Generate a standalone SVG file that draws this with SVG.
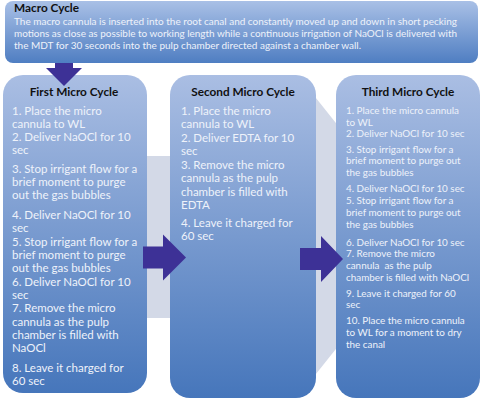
<svg xmlns="http://www.w3.org/2000/svg" width="483" height="400" viewBox="0 0 483 400">
<defs>
<linearGradient id="gMicro" x1="0" y1="0" x2="0" y2="1">
<stop offset="0" stop-color="#aabee3"/>
<stop offset="1" stop-color="#4676bb"/>
</linearGradient>
<linearGradient id="gMacro" x1="0" y1="0" x2="0" y2="1">
<stop offset="0" stop-color="#a9c0e6"/>
<stop offset="1" stop-color="#4f7ec2"/>
</linearGradient>
<style>
.box{fill:url(#gMicro);}
.title{font-family:Lato,"Liberation Sans",sans-serif;font-weight:bold;font-size:11.8px;fill:#111111;text-anchor:middle;}
.mtitle{font-family:Lato,"Liberation Sans",sans-serif;font-weight:bold;font-size:11.8px;fill:#111111;}
.body{font-family:Lato,"Liberation Sans",sans-serif;font-size:11.5px;fill:#eef2fa;}
.small{font-family:Lato,"Liberation Sans",sans-serif;font-size:9.9px;fill:#eef2fa;white-space:pre;}
.mbody{font-family:Lato,"Liberation Sans",sans-serif;font-size:10.4px;fill:#eef2fa;}
.arrow{fill:#3d3196;}
</style>
</defs>
<rect width="483" height="400" fill="#ffffff"/>
<polygon id="background-arrow" points="20,156 300,156 300,78 426,236 300,394 300,318 20,318" fill="#d3d9e7"/>

<g id="macro">
<rect x="5" y="1" width="473" height="62" rx="8" fill="url(#gMacro)"/>
<text class="mtitle" x="14" y="12">Macro Cycle</text>
<text class="mbody" x="14" y="25" textLength="443" lengthAdjust="spacingAndGlyphs">The macro cannula is inserted into the root canal and constantly moved up and down in short pecking</text>
<text class="mbody" x="14" y="37" textLength="443" lengthAdjust="spacingAndGlyphs">motions as close as possible to working length while a continuous irrigation of NaOCl is delivered with</text>
<text class="mbody" x="14" y="49" textLength="347" lengthAdjust="spacingAndGlyphs">the MDT for 30 seconds into the pulp chamber directed against a chamber wall.</text>
</g>

<g id="first">
<rect class="box" x="3" y="75" width="144" height="318" rx="20"/>
<text class="title" x="74" y="96">First Micro Cycle</text>
<text class="body">
<tspan x="12" y="115">1. Place the micro</tspan>
<tspan x="12" y="128">cannula to WL</tspan>
<tspan x="12" y="141">2. Deliver NaOCl for 10</tspan>
<tspan x="12" y="154">sec</tspan>
<tspan x="12" y="173">3. Stop irrigant flow for a</tspan>
<tspan x="12" y="186">brief moment to purge</tspan>
<tspan x="12" y="199">out the gas bubbles</tspan>
<tspan x="12" y="219">4. Deliver NaOCl for 10</tspan>
<tspan x="12" y="232">sec</tspan>
<tspan x="12" y="246">5. Stop irrigant flow for a</tspan>
<tspan x="12" y="259">brief moment to purge</tspan>
<tspan x="12" y="272">out the gas bubbles</tspan>
<tspan x="12" y="286">6. Deliver NaOCl for 10</tspan>
<tspan x="12" y="299">sec</tspan>
<tspan x="12" y="312">7. Remove the micro</tspan>
<tspan x="12" y="326">cannula as the pulp</tspan>
<tspan x="12" y="339">chamber is filled with</tspan>
<tspan x="12" y="352">NaOCl</tspan>
<tspan x="12" y="372">8. Leave it charged for</tspan>
<tspan x="12" y="385">60 sec</tspan>
</text>
</g>

<g id="second">
<rect class="box" x="170" y="75" width="146" height="323" rx="20"/>
<text class="title" x="243" y="96">Second Micro Cycle</text>
<text class="body">
<tspan x="181" y="115">1. Place the micro</tspan>
<tspan x="181" y="128">cannula to WL</tspan>
<tspan x="181" y="142">2. Deliver EDTA for 10</tspan>
<tspan x="181" y="155">sec</tspan>
<tspan x="181" y="169">3. Remove the micro</tspan>
<tspan x="181" y="182">cannula as the pulp</tspan>
<tspan x="181" y="196">chamber is filled with</tspan>
<tspan x="181" y="209">EDTA</tspan>
<tspan x="181" y="227">4. Leave it charged for</tspan>
<tspan x="181" y="240">60 sec</tspan>
</text>
</g>

<g id="third">
<rect class="box" x="336" y="75" width="144" height="323" rx="20"/>
<text class="title" x="408" y="96">Third Micro Cycle</text>
<text class="small">
<tspan x="346" y="114">1. Place the micro cannula</tspan>
<tspan x="346" y="125.5">to WL</tspan>
<tspan x="346" y="137">2. Deliver NaOCl for 10 sec</tspan>
<tspan x="346" y="152.5">3. Stop irrigant flow for a</tspan>
<tspan x="346" y="164">brief moment to purge out</tspan>
<tspan x="346" y="176">the gas bubbles</tspan>
<tspan x="346" y="191.5">4. Deliver NaOCl for 10 sec</tspan>
<tspan x="346" y="203.5">5. Stop irrigant flow for a</tspan>
<tspan x="346" y="215.5">brief moment to purge out</tspan>
<tspan x="346" y="227.5">the gas bubbles</tspan>
<tspan x="346" y="245.5">6. Deliver NaOCl for 10 sec</tspan>
<tspan x="346" y="257">7. Remove the micro</tspan>
<tspan x="346" y="269">cannula  as the pulp</tspan>
<tspan x="346" y="280.5">chamber is filled with NaOCl</tspan>
<tspan x="346" y="296.5">9. Leave it charged for 60</tspan>
<tspan x="346" y="308">sec</tspan>
<tspan x="346" y="324">10. Place the micro cannula</tspan>
<tspan x="346" y="336">to WL for a moment to dry</tspan>
<tspan x="346" y="347.5">the canal</tspan>
</text>
</g>

<g id="connectors">
<polygon class="arrow" points="55,63 73,63 73,68 82,68 64,86 46,68 55,68"/>
<polygon class="arrow" points="143,246.5 163,246.5 163,234.5 186,257.5 163,280.5 163,268.5 143,268.5"/>
<polygon class="arrow" points="300,248 321,248 321,236 343,259 321,282 321,270 300,270"/>
</g>
</svg>
